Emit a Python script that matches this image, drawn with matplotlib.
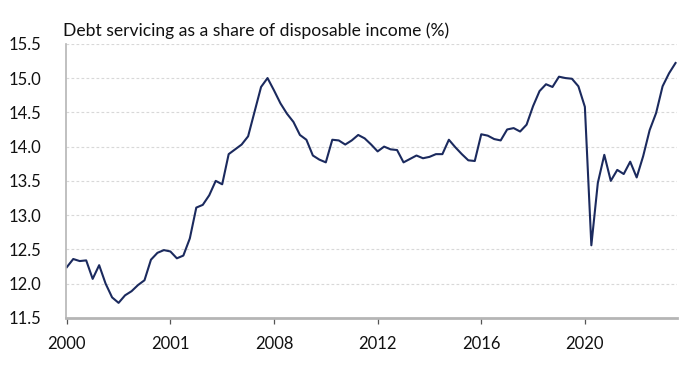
import numpy as np
import matplotlib
matplotlib.use("Agg")
import matplotlib.pyplot as plt

plt.rcParams['font.family'] = ['Lato', 'DejaVu Sans']

# Quarterly series, 2000 Q1 onwards
start_year = 2000
debt_service_ratio = [
    12.24, 12.36, 12.33, 12.34, 12.07, 12.27, 12.00, 11.80, 11.72, 11.83,
    11.89, 11.98, 12.05, 12.35, 12.45, 12.49, 12.47, 12.37, 12.41, 12.66,
    13.11, 13.15, 13.29, 13.50, 13.45, 13.89, 13.96, 14.03, 14.15, 14.51,
    14.87, 15.00, 14.82, 14.63, 14.48, 14.36, 14.17, 14.10, 13.87, 13.81,
    13.77, 14.10, 14.09, 14.03, 14.09, 14.17, 14.12, 14.03, 13.93, 14.00,
    13.96, 13.95, 13.77, 13.82, 13.87, 13.83, 13.85, 13.89, 13.89, 14.10,
    13.99, 13.89, 13.80, 13.79, 14.18, 14.16, 14.11, 14.09, 14.25, 14.27,
    14.22, 14.32, 14.59, 14.81, 14.91, 14.87, 15.02, 15.00, 14.99, 14.88,
    14.58, 12.56, 13.47, 13.88, 13.50, 13.66, 13.60, 13.78, 13.55, 13.86,
    14.24, 14.49, 14.88, 15.07, 15.22,
]
xtick_years = [2000, 2004, 2008, 2012, 2016, 2020]
xtick_labels = ["2000", "2001", "2008", "2012", "2016", "2020"]
yticks = [11.5, 12.0, 12.5, 13.0, 13.5, 14.0, 14.5, 15.0, 15.5]
title = "Debt servicing as a share of disposable income (%)"

x = start_year + np.arange(len(debt_service_ratio)) / 4.0

fig = plt.figure(figsize=(6.91, 3.68), dpi=100)
ax = fig.add_axes([0.0955, 0.136, 0.884, 0.745])

ax.plot(x, debt_service_ratio, color="#1b2a5e", lw=1.5, solid_joinstyle="round")

ax.set_xlim(1999.97, 2023.55)
ax.set_ylim(11.5, 15.5)
ax.set_yticks(yticks)
ax.set_yticklabels([f"{v:.1f}" for v in yticks])
ax.set_xticks(xtick_years)
ax.set_xticklabels(xtick_labels)

for v in yticks[1:]:
    ax.axhline(v, color="#d8d8d8", lw=0.8, ls=(0, (2.5, 2)), zorder=0)

for s in ["top", "right"]:
    ax.spines[s].set_visible(False)
ax.spines["left"].set_color("#b5b5b5")
ax.spines["left"].set_linewidth(1.2)
ax.spines["bottom"].set_color("#b5b5b5")
ax.spines["bottom"].set_linewidth(2.0)

ax.tick_params(axis="y", length=0, pad=18, labelsize=12, labelcolor="#111111")
ax.tick_params(axis="x", length=4, width=0.9, color="#555555", direction="out",
               pad=9, labelsize=12, labelcolor="#111111")

fig.text(63 / 691, 1 - 31 / 368, title, fontsize=12.6, color="#111111",
         ha="left", va="center")

fig.savefig("out.png", dpi=100)
